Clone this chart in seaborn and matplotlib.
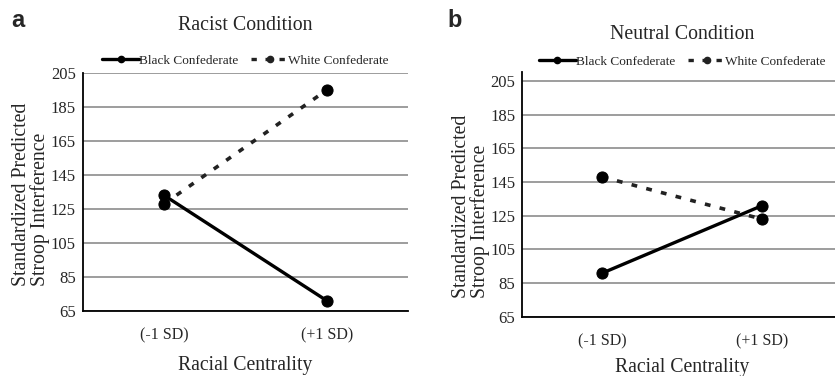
import matplotlib
matplotlib.use("Agg")
import matplotlib.pyplot as plt
from matplotlib.lines import Line2D
import seaborn as sns
import pandas as pd

# racial centrality levels and predicted stroop interference
centrality = ["(-1 SD)", "(+1 SD)"]
racist_black = [133, 71]
racist_white = [128, 195]
neutral_black = [91, 131]
neutral_white = [148, 123]
yticks = [65, 85, 105, 125, 145, 165, 185, 205]

sns.set_style("white")
plt.rcParams["font.family"] = ["Liberation Serif", "DejaVu Serif"]

fig = plt.figure(figsize=(8.35, 3.76), dpi=100)
ax_a = fig.add_axes([0.099, 0.173, 0.390, 0.633])
ax_b = fig.add_axes([0.6255, 0.157, 0.383, 0.652])

white_dash = (0, (1.6, 2.6))


def panel(ax, black, white, title, ytop, title_y, leg_y, xpad, ylab_y):
    df = pd.DataFrame({"x": centrality * 2,
                       "y": black + white,
                       "g": ["Black Confederate"] * 2 + ["White Confederate"] * 2})
    d = df[df.g == "Black Confederate"]
    sns.lineplot(data=d, x="x", y="y", ax=ax, color="black", lw=2.4,
                 marker="o", markersize=8, markeredgecolor="black", sort=False)
    d = df[df.g == "White Confederate"]
    sns.lineplot(data=d, x="x", y="y", ax=ax, color="#222222", lw=2.6,
                 linestyle=white_dash, marker="o", markersize=8,
                 markeredgecolor="black", markerfacecolor="black", sort=False)
    ax.set_ylim(65, ytop)
    ax.set_xlim(-0.5, 1.5)
    ax.set_yticks(yticks)
    ax.set_xticks([-0.5, 0.5, 1.5])
    ax.set_xticklabels([])
    ax.set_xticks([0, 1], minor=True)
    ax.set_xticklabels(centrality, minor=True)
    ax.tick_params(axis="x", which="minor", length=0, pad=12, labelsize=11.5)
    ax.tick_params(axis="x", which="major", length=4, width=1.2, direction="out")
    ax.tick_params(axis="y", length=4, width=1.2, direction="out", pad=1, labelsize=12)
    ax.yaxis.grid(True, color="#8c8c8c", lw=1.2)
    ax.set_axisbelow(True)
    for s in ["top", "right"]:
        ax.spines[s].set_visible(False)
    for s in ["left", "bottom"]:
        ax.spines[s].set_color("black")
        ax.spines[s].set_linewidth(1.3)
    ax.set_xlabel("Racial Centrality", fontsize=14.2, labelpad=xpad)
    ax.set_ylabel("Standardized Predicted\nStroop Interference", fontsize=14.2,
                  labelpad=0.5, linespacing=0.9, multialignment="left")
    ax.yaxis.label.set_y(ylab_y)
    ax.set_title(title, fontsize=14.3, y=title_y)
    handles = [Line2D([], [], color="black", lw=2.4, marker="o", markersize=4.5),
               Line2D([], [], color="#222222", lw=2.4, linestyle=white_dash,
                      marker="o", markersize=4.5)]
    ax.legend(handles, ["Black Confederate", "White Confederate"], ncol=2,
              loc="center", bbox_to_anchor=(0.5, leg_y), frameon=False,
              fontsize=9.5, handlelength=2.8, handletextpad=0.0,
              columnspacing=1.0, borderaxespad=0)


panel(ax_a, racist_black, racist_white, "Racist Condition", 205, 1.145, 1.052,
      9, 0.49)
panel(ax_b, neutral_black, neutral_white, "Neutral Condition", 210.3, 1.1, 1.041,
      6, 0.45)

fig.text(0.014, 0.945, "a", fontsize=17, fontweight="bold",
         family="Liberation Sans", va="center")
fig.text(0.536, 0.945, "b", fontsize=17, fontweight="bold",
         family="Liberation Sans", va="center")

fig.savefig("out.png", dpi=100)
